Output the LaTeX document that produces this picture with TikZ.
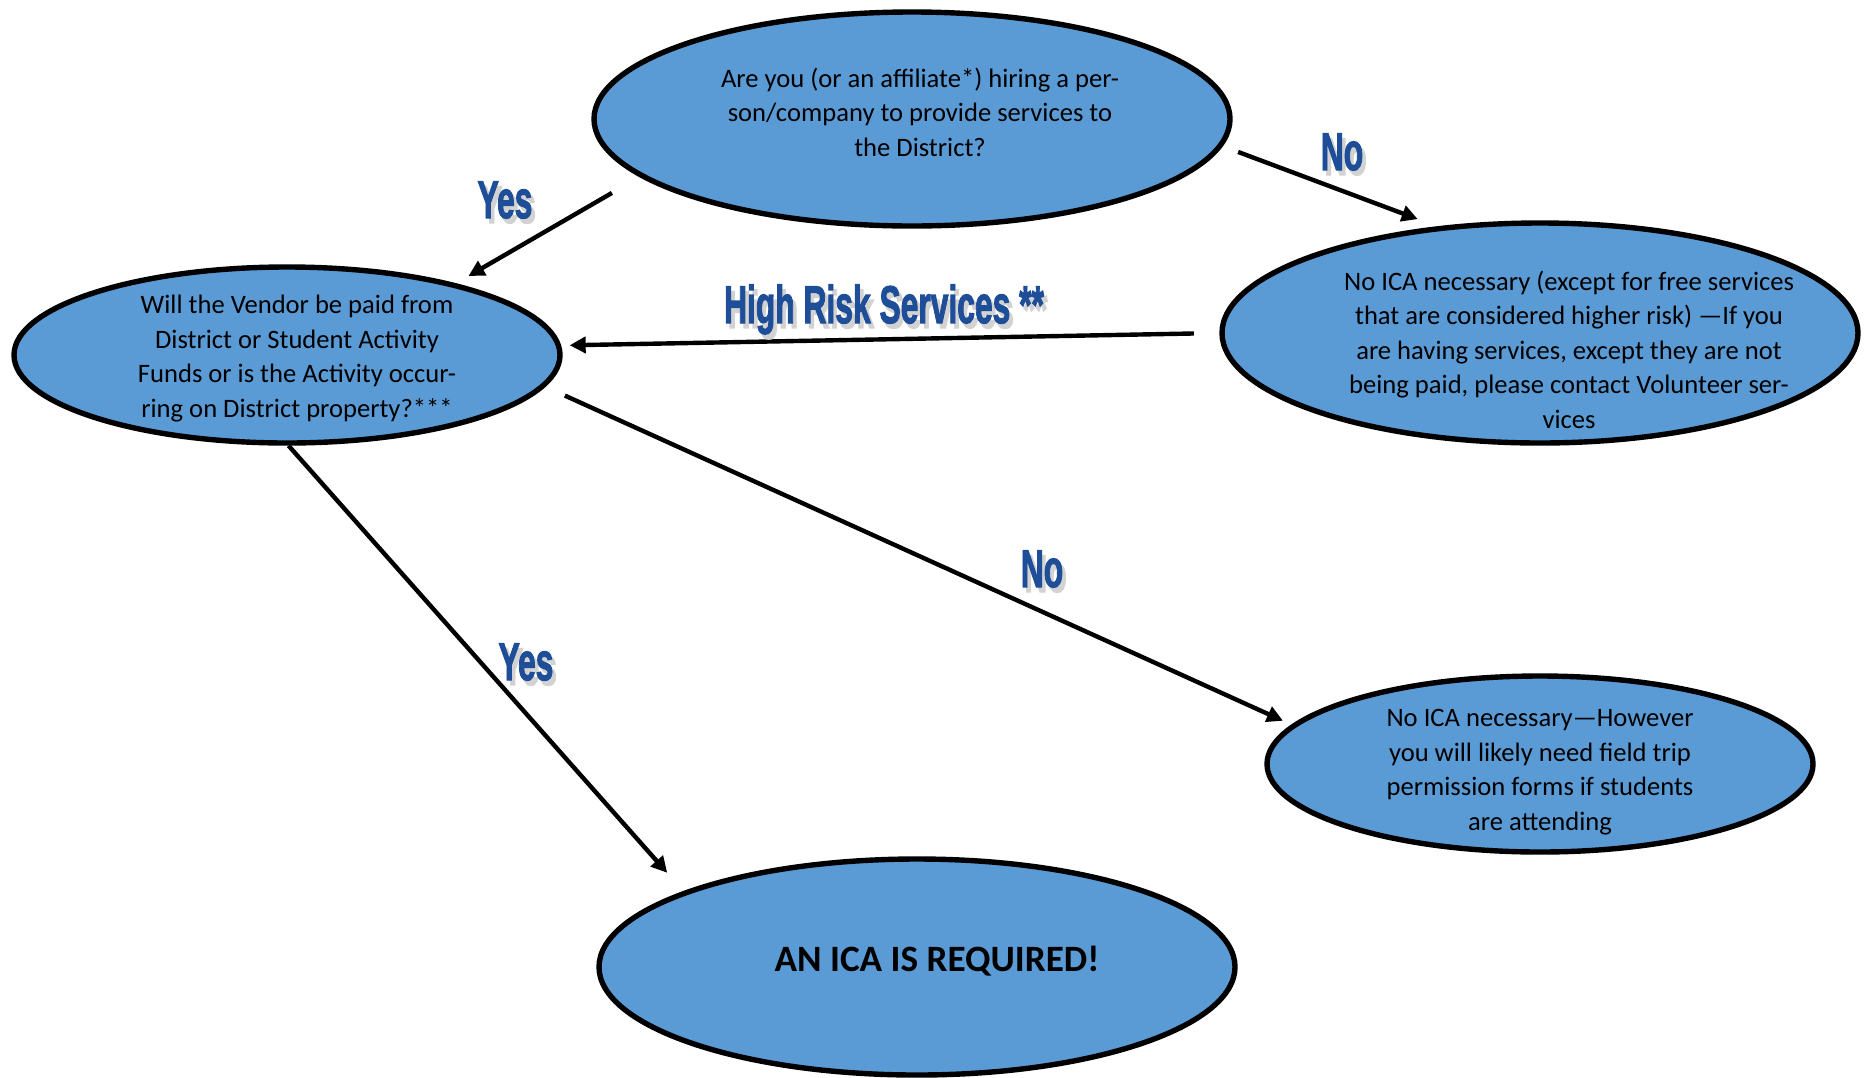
\documentclass[tikz,border=0pt]{standalone}
\usepackage{fontspec}
\setmainfont{Carlito}
\newfontfamily\wordart{Liberation Sans}[BoldFeatures={FakeBold=2.5}]
\usepackage{graphicx}
\usepackage{xcolor}
\usetikzlibrary{shapes.geometric,arrows.meta}
\definecolor{bubfill}{HTML}{5B9BD5}
\definecolor{ansblue}{HTML}{1F4E99}
\definecolor{shade}{HTML}{D2D2D2}
\newcommand{\answer}[1]{\scalebox{0.6}[1]{\makebox[0pt][l]{\kern3pt\raisebox{-2.5pt}{\textcolor{shade}{#1}}}\textcolor{ansblue}{#1}}}
\tikzset{
  bub/.style={ellipse, draw=black, fill=bubfill, line width=2.7pt, inner sep=0pt},
  txt/.style={font=\fontsize{13.3}{17.3}\selectfont, align=center, text=black},
  arr/.style={draw=black, line width=2.2pt, -{Triangle[length=8pt,width=8pt]}},
  ans/.style={anchor=base, inner sep=0pt, font=\wordart\bfseries\fontsize{26.5}{30}\selectfont},
}

\begin{document}
\begin{tikzpicture}[x=0.5pt,y=-0.5pt]
  \useasboundingbox (0,0) rectangle (1867,1077);
  % bubbles
  \node[bub, minimum width=318pt, minimum height=107pt,
    label={[txt,xshift=4pt,yshift=3.5pt]center:{Are you (or an affiliate*) hiring a per-\\son/company to provide services to\\the District?}}] (hire) at (912,119) {};
  \node[bub, minimum width=273pt, minimum height=88pt,
    label={[txt,xshift=5pt,yshift=-1.8pt]center:{Will the Vendor be paid from\\District or Student Activity\\Funds or is the Activity occur-\\ring on District property?***}}] (paid) at (287,355) {};
  \node[bub, minimum width=318pt, minimum height=110pt,
    label={[txt,xshift=14.5pt,yshift=-8.3pt]center:{No ICA necessary (except for free services\\that are considered higher risk) ---If you\\are having services, except they are not\\being paid, please contact Volunteer ser-\\vices}}] (nofree) at (1540,333) {};
  \node[bub, minimum width=273pt, minimum height=88pt,
    label={[txt,yshift=-4pt]center:{No ICA necessary---However\\you will likely need field trip\\permission forms if students\\are attending}}] (field) at (1540,764) {};
  \node[bub, minimum width=318pt, minimum height=108pt,
    label={[txt,font=\bfseries\fontsize{18.6}{22}\selectfont,xshift=10pt,yshift=3pt]center:{AN ICA IS REQUIRED!}}] (ica) at (917,967) {};

  % connectors
  \draw[arr, shorten <=16pt, shorten >=7.25pt] (hire.192.5) -- (paid.23.7);
  \draw[arr, shorten <=8.25pt, shorten >=10.25pt] (hire.-5.6) -- (nofree.134);
  \draw[arr, shorten <=12.75pt, shorten >=4.25pt] (nofree.180.7) -- (paid.2.1);
  \draw[arr, shorten <=10.75pt, shorten >=4.75pt] (paid.-7.7) -- (field.171.8);
  \draw[arr, shorten >=12.25pt] (paid.-89) -- (ica.162.8);

  % answers
  \node[ans] (yes1) at (505,218) {\answer{Yes}};
  \node[ans] (no1) at (1342,170) {\answer{No}};
  \node[ans] (risky) at (884,323) {\answer{High Risk Services **}};
  \node[ans] (no2) at (1042,587) {\answer{No}};
  \node[ans] (yes2) at (526,680) {\answer{Yes}};
\end{tikzpicture}
\end{document}
